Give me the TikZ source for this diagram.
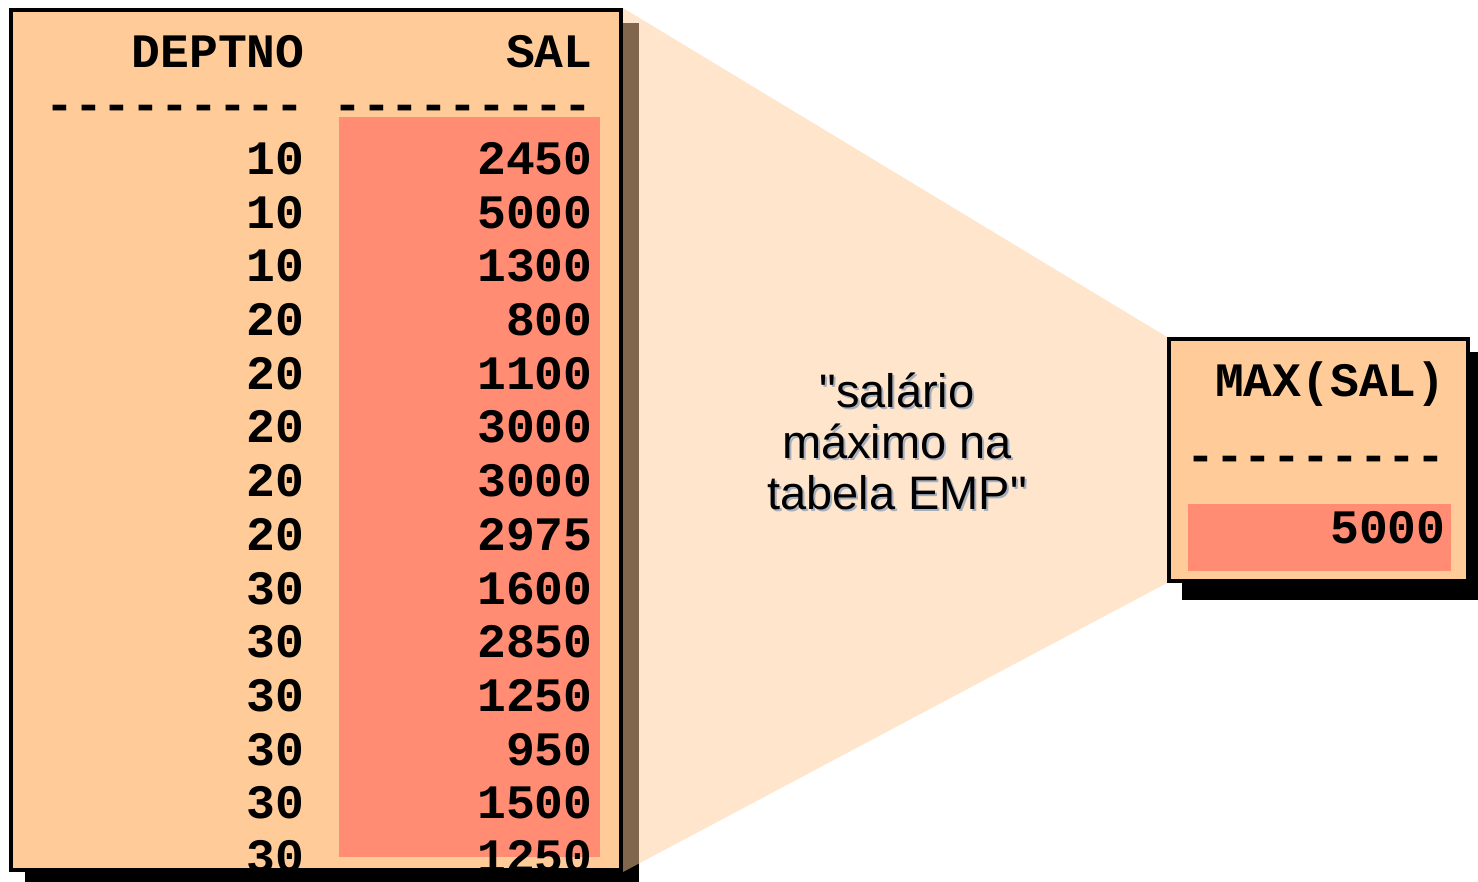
\documentclass[tikz,border=0pt]{standalone}
\usepackage{fontspec}
\newfontfamily\notefont{Liberation Sans}
\newfontfamily\sqlfont{Liberation Mono}
\usetikzlibrary{backgrounds}
\definecolor{boxpeach}{RGB}{255,204,153}
\definecolor{salhigh}{RGB}{255,140,115}
\definecolor{txtshadow}{RGB}{165,175,190}
\begin{document}
\begin{tikzpicture}[x=0.5pt,y=-0.5pt,
    tablebox/.style={draw=black,line width=2pt,fill=boxpeach,inner sep=0pt},
    cell/.style={anchor=base east,inner sep=0pt,font=\fontsize{24}{28}\selectfont\sqlfont\bfseries},
    note/.style={align=center,inner sep=0pt,font=\fontsize{23.5}{25.5}\selectfont\notefont}]
  \useasboundingbox (0,0) rectangle (1478,882);
  \node[tablebox,minimum width=305pt,minimum height=430pt] (emp) at (316,440) {};
  \node[tablebox,minimum width=149.5pt,minimum height=121pt] (maxbox) at (1318.5,460) {};
  \fill[salhigh] (339,117) rectangle (600,857);
  \fill[salhigh] (1188,504) rectangle (1451,571);
  \begin{scope}[on background layer]
    \fill ([shift={(16,15)}]emp.north west) rectangle ([shift={(16,15)}]emp.south east);
    \fill ([shift={(15,15)}]maxbox.north west) rectangle ([shift={(15,17)}]maxbox.south east);
    \fill[boxpeach,opacity=.5] (emp.north east) -- (maxbox.north west)
      -- (maxbox.south west) -- (emp.south east) -- cycle;
  \end{scope}
  \path
    (305,68) node[cell] (dhead){DEPTNO}
    (305,120.7) node[cell] (dline){---------}
    (305,174.4) node[cell] (d1){10}
    (305,228.1) node[cell] (d2){10}
    (305,281.8) node[cell] (d3){10}
    (305,335.5) node[cell] (d4){20}
    (305,389.2) node[cell] (d5){20}
    (305,442.9) node[cell] (d6){20}
    (305,496.6) node[cell] (d7){20}
    (305,550.3) node[cell] (d8){20}
    (305,604.0) node[cell] (d9){30}
    (305,657.7) node[cell] (d10){30}
    (305,711.4) node[cell] (d11){30}
    (305,765.1) node[cell] (d12){30}
    (305,818.8) node[cell] (d13){30}
    (305,872.5) node[cell] (d14){30};
  \path
    (593,68) node[cell] (shead){SAL}
    (593,120.7) node[cell] (sline){---------}
    (593,174.4) node[cell] (s1){2450}
    (593,228.1) node[cell] (s2){5000}
    (593,281.8) node[cell] (s3){1300}
    (593,335.5) node[cell] (s4){800}
    (593,389.2) node[cell] (s5){1100}
    (593,442.9) node[cell] (s6){3000}
    (593,496.6) node[cell] (s7){3000}
    (593,550.3) node[cell] (s8){2975}
    (593,604.0) node[cell] (s9){1600}
    (593,657.7) node[cell] (s10){2850}
    (593,711.4) node[cell] (s11){1250}
    (593,765.1) node[cell] (s12){950}
    (593,818.8) node[cell] (s13){1500}
    (593,872.5) node[cell] (s14){1250};
  \path
    (1446,396) node[cell] (mhead){MAX(SAL)}
    (1446,471) node[cell] (mline){---------}
    (1446,543) node[cell] (mval){5000};
  \node[note,text=txtshadow] (noteshadow) at (899,443) {"salário\\máximo na\\tabela EMP"};
  \node[note] (note) at (897,441) {"salário\\máximo na\\tabela EMP"};
\end{tikzpicture}
\end{document}
